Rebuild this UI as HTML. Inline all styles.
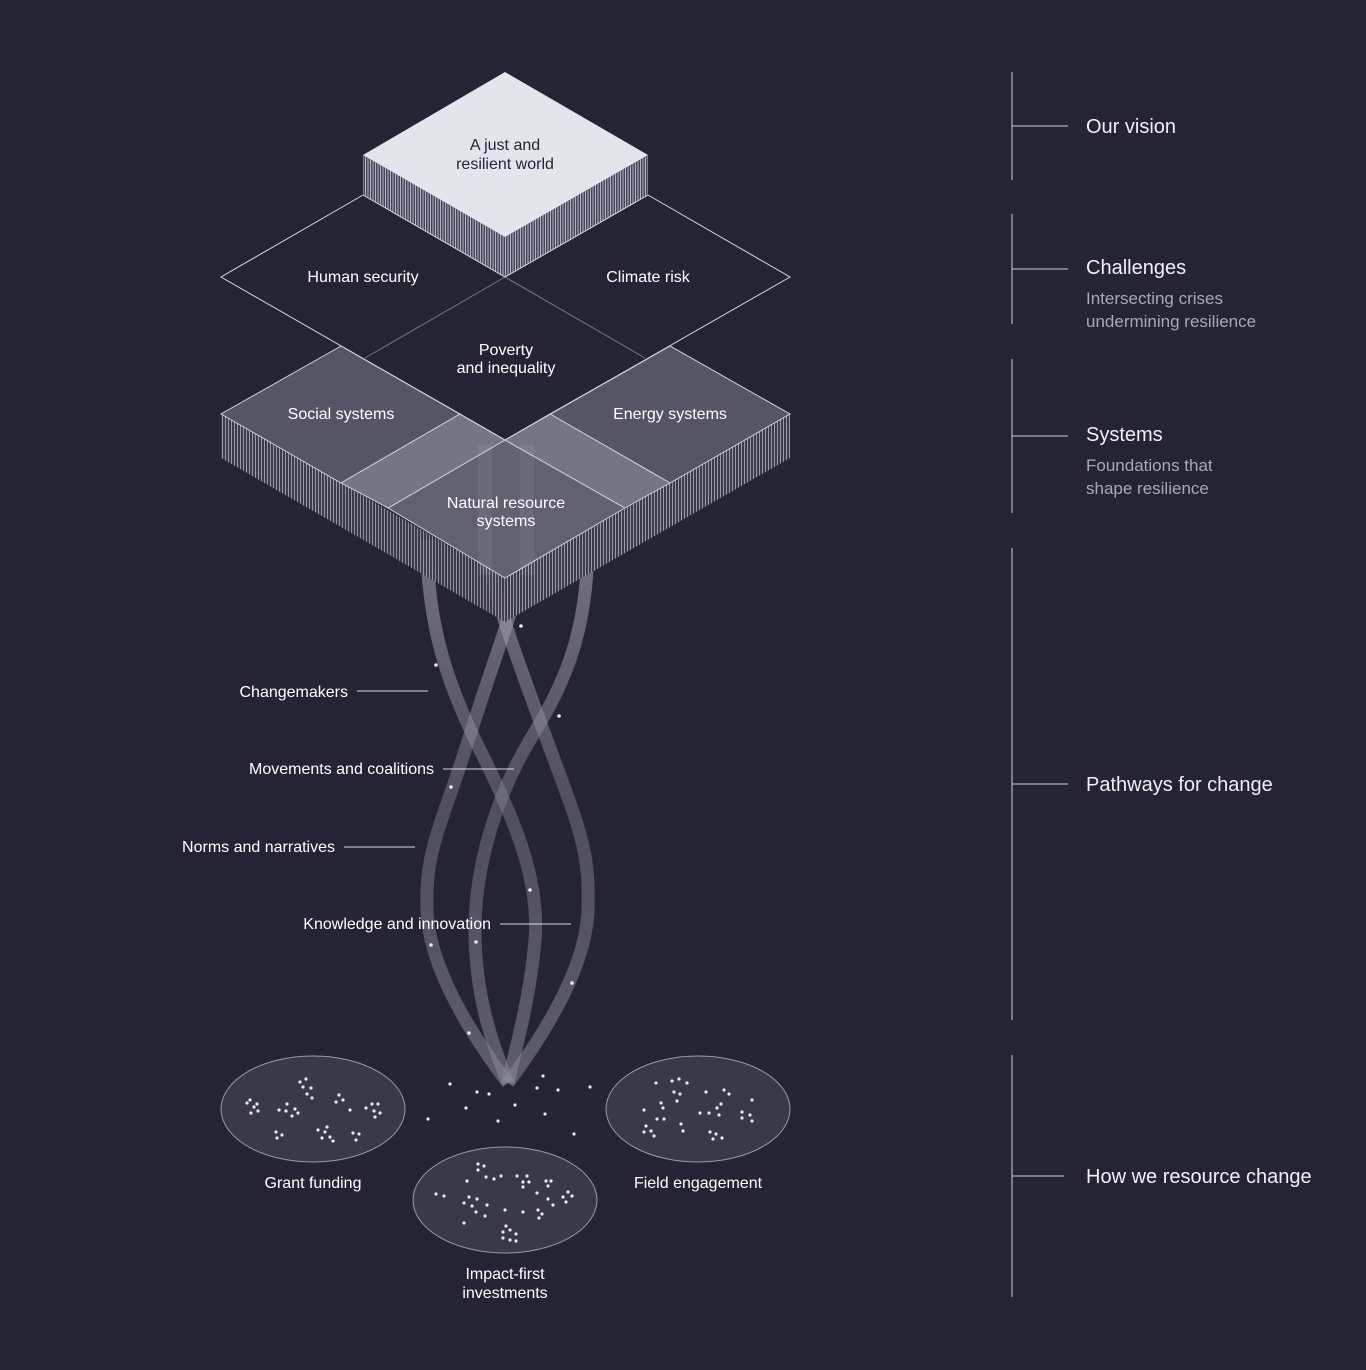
<!DOCTYPE html>
<html><head><meta charset="utf-8">
<style>
html,body{margin:0;padding:0;background:#252434;}
body{width:1366px;height:1370px;overflow:hidden;}
svg{display:block;}
text{font-family:"Liberation Sans",sans-serif;}
</style></head><body>
<svg width="1366" height="1370" viewBox="0 0 1366 1370" xmlns="http://www.w3.org/2000/svg">
<defs>
<pattern id="stripeL" width="3" height="10" patternUnits="userSpaceOnUse">
<rect width="3" height="10" fill="#3d3c4c"/><rect width="1" height="10" fill="#9a99a8"/>
</pattern>
<pattern id="stripeV" width="2.5" height="10" patternUnits="userSpaceOnUse">
<rect width="2.5" height="10" fill="#45445a"/><rect width="1" height="10" fill="#b5b4c2"/>
</pattern>
<linearGradient id="rib" x1="0" y1="0" x2="0" y2="1">
<stop offset="0" stop-color="#a8a7b8" stop-opacity="0.6"/>
<stop offset="0.5" stop-color="#8a899c" stop-opacity="0.42"/>
<stop offset="1" stop-color="#8a899c" stop-opacity="0.55"/>
</linearGradient>
</defs>
<rect width="1366" height="1370" fill="#252434"/>

<!-- Challenges diamond -->
<g stroke="#d8d8e2" stroke-width="1" fill="none">
<polyline points="363,195 221,277 505,440 790,277 648,195"/>
<line x1="505" y1="277" x2="365" y2="358" stroke-opacity="0.45"/>
<line x1="505" y1="277" x2="645" y2="358" stroke-opacity="0.45"/>
</g>

<!-- ribbons -->
<g fill="none" stroke="url(#rib)" stroke-width="13" stroke-linecap="butt">
<path d="M485,540 C492,590 510,640 545,735 S590,850 588,910 S540,1040 508,1083"/>
<path d="M527,540 C522,590 500,640 470,735 S425,850 427,910 S475,1040 508,1083"/>
<path d="M427,540 C427,620 445,680 480,750 S540,880 535,940 S515,1050 508,1083"/>
<path d="M588,540 C588,640 560,690 530,740 S475,860 475,930 S495,1050 508,1083"/>
</g>

<!-- Systems layer sides -->
<polygon points="221,414 341,483 341,527 221,458" fill="url(#stripeL)"/>
<polygon points="341,483 505,578 505,622 341,527" fill="url(#stripeL)" opacity="0.9"/>
<polygon points="505,578 790,414 790,458 505,622" fill="url(#stripeL)"/>
<!-- tops -->
<g stroke="#d0d0da" stroke-width="1">
<polygon points="341,346 221,414 341,483 460,414" fill="#565566"/>
<polygon points="670,346 550,414 670,483 790,414" fill="#565566"/>
<polygon points="505,440 388,508 505,578 625,508" fill="#626172"/>
<polygon points="460,414 341,483 388,508 505,440" fill="#767585"/>
<polygon points="550,414 670,483 625,508 505,440" fill="#767585"/>
</g>
<polyline points="341,346 505,440 670,346" fill="none" stroke="#d0d0da" stroke-width="1"/>
<g fill="#ffffff" opacity="0.06">
<rect x="478" y="445" width="14" height="130"/><rect x="520" y="445" width="14" height="130"/>
</g>

<!-- Vision block -->
<polygon points="363,155 505,237 505,277 363,195" fill="url(#stripeV)"/>
<polygon points="505,237 648,155 648,195 505,277" fill="url(#stripeV)"/>
<polyline points="363,195 505,277 648,195" fill="none" stroke="#d8d8e2" stroke-width="1"/>
<polygon points="505,72 363,155 505,237 648,155" fill="#e4e4ec"/>

<!-- labels on diagram -->
<g font-size="16" fill="#ffffff" text-anchor="middle">
<text x="505" y="150" fill="#25243a">A just and</text>
<text x="505" y="169" fill="#25243a">resilient world</text>
<text x="363" y="282">Human security</text>
<text x="648" y="282">Climate risk</text>
<text x="506" y="355">Poverty</text>
<text x="506" y="373">and inequality</text>
<text x="341" y="419">Social systems</text>
<text x="670" y="419">Energy systems</text>
<text x="506" y="508">Natural resource</text>
<text x="506" y="526">systems</text>
</g>

<!-- pathway labels -->
<g font-size="16" fill="#ffffff" text-anchor="end">
<text x="348" y="697">Changemakers</text>
<text x="434" y="774">Movements and coalitions</text>
<text x="335" y="852">Norms and narratives</text>
<text x="491" y="929">Knowledge and innovation</text>
</g>
<g stroke="#d8d8e2" stroke-width="1">
<line x1="357" y1="691" x2="428" y2="691"/>
<line x1="443" y1="769" x2="514" y2="769"/>
<line x1="344" y1="847" x2="415" y2="847"/>
<line x1="500" y1="924" x2="571" y2="924"/>
</g>

<!-- ribbon dots -->
<g fill="#e8e8f0">
<circle cx="521" cy="626" r="1.8"/><circle cx="436" cy="665" r="1.8"/><circle cx="559" cy="716" r="1.8"/>
<circle cx="451" cy="787" r="1.8"/><circle cx="530" cy="890" r="1.8"/><circle cx="431" cy="945" r="1.8"/>
<circle cx="476" cy="942" r="1.8"/><circle cx="572" cy="983" r="1.8"/><circle cx="469" cy="1033" r="1.8"/>
</g>

<!-- resource ellipses -->
<g fill="#3a3949" stroke="#9a99a8" stroke-width="1">
<ellipse cx="313" cy="1109" rx="92" ry="53"/>
<ellipse cx="698" cy="1109" rx="92" ry="53"/>
<ellipse cx="505" cy="1200" rx="92" ry="53"/>
</g>
<g fill="#e8e8f0">
<circle cx="450" cy="1084" r="1.6"/><circle cx="477" cy="1092" r="1.6"/><circle cx="489" cy="1094" r="1.6"/>
<circle cx="543" cy="1076" r="1.6"/><circle cx="537" cy="1088" r="1.6"/><circle cx="558" cy="1090" r="1.6"/>
<circle cx="590" cy="1087" r="1.6"/><circle cx="466" cy="1108" r="1.6"/><circle cx="515" cy="1105" r="1.6"/>
<circle cx="545" cy="1114" r="1.6"/><circle cx="428" cy="1119" r="1.6"/><circle cx="498" cy="1121" r="1.6"/>
<circle cx="574" cy="1134" r="1.6"/>
<circle cx="300" cy="1082" r="1.6"/><circle cx="306" cy="1079" r="1.6"/><circle cx="303" cy="1087" r="1.6"/><circle cx="311" cy="1088" r="1.6"/><circle cx="307" cy="1094" r="1.6"/><circle cx="312" cy="1098" r="1.6"/>
<circle cx="339" cy="1095" r="1.6"/><circle cx="336" cy="1102" r="1.6"/><circle cx="343" cy="1100" r="1.6"/>
<circle cx="247" cy="1103" r="1.6"/><circle cx="254" cy="1107" r="1.6"/><circle cx="258" cy="1111" r="1.6"/><circle cx="251" cy="1113" r="1.6"/><circle cx="250" cy="1100" r="1.6"/><circle cx="257" cy="1104" r="1.6"/>
<circle cx="279" cy="1110" r="1.6"/><circle cx="286" cy="1111" r="1.6"/><circle cx="287" cy="1104" r="1.6"/><circle cx="295" cy="1109" r="1.6"/><circle cx="292" cy="1116" r="1.6"/><circle cx="298" cy="1113" r="1.6"/>
<circle cx="350" cy="1110" r="1.6"/><circle cx="366" cy="1108" r="1.6"/><circle cx="372" cy="1104" r="1.6"/><circle cx="378" cy="1104" r="1.6"/><circle cx="374" cy="1111" r="1.6"/><circle cx="380" cy="1113" r="1.6"/><circle cx="375" cy="1117" r="1.6"/>
<circle cx="276" cy="1132" r="1.6"/><circle cx="282" cy="1135" r="1.6"/><circle cx="277" cy="1138" r="1.6"/>
<circle cx="318" cy="1130" r="1.6"/><circle cx="325" cy="1132" r="1.6"/><circle cx="330" cy="1137" r="1.6"/><circle cx="322" cy="1138" r="1.6"/><circle cx="327" cy="1127" r="1.6"/><circle cx="333" cy="1141" r="1.6"/>
<circle cx="353" cy="1133" r="1.6"/><circle cx="359" cy="1134" r="1.6"/><circle cx="356" cy="1140" r="1.6"/>
<circle cx="656" cy="1083" r="1.6"/><circle cx="672" cy="1081" r="1.6"/><circle cx="679" cy="1079" r="1.6"/><circle cx="687" cy="1083" r="1.6"/>
<circle cx="674" cy="1092" r="1.6"/><circle cx="680" cy="1094" r="1.6"/><circle cx="677" cy="1101" r="1.6"/>
<circle cx="706" cy="1092" r="1.6"/><circle cx="724" cy="1090" r="1.6"/><circle cx="729" cy="1094" r="1.6"/>
<circle cx="661" cy="1103" r="1.6"/><circle cx="663" cy="1108" r="1.6"/><circle cx="644" cy="1110" r="1.6"/>
<circle cx="700" cy="1113" r="1.6"/><circle cx="709" cy="1113" r="1.6"/><circle cx="717" cy="1108" r="1.6"/><circle cx="721" cy="1104" r="1.6"/><circle cx="719" cy="1115" r="1.6"/>
<circle cx="752" cy="1100" r="1.6"/><circle cx="742" cy="1112" r="1.6"/><circle cx="750" cy="1115" r="1.6"/><circle cx="742" cy="1118" r="1.6"/><circle cx="752" cy="1121" r="1.6"/>
<circle cx="657" cy="1119" r="1.6"/><circle cx="664" cy="1119" r="1.6"/><circle cx="681" cy="1124" r="1.6"/><circle cx="683" cy="1131" r="1.6"/>
<circle cx="646" cy="1126" r="1.6"/><circle cx="644" cy="1132" r="1.6"/><circle cx="651" cy="1131" r="1.6"/><circle cx="654" cy="1136" r="1.6"/>
<circle cx="710" cy="1132" r="1.6"/><circle cx="716" cy="1134" r="1.6"/><circle cx="713" cy="1139" r="1.6"/><circle cx="722" cy="1138" r="1.6"/>
<circle cx="478" cy="1164" r="1.6"/><circle cx="484" cy="1166" r="1.6"/><circle cx="478" cy="1170" r="1.6"/>
<circle cx="467" cy="1181" r="1.6"/><circle cx="486" cy="1177" r="1.6"/><circle cx="494" cy="1179" r="1.6"/><circle cx="501" cy="1176" r="1.6"/>
<circle cx="517" cy="1176" r="1.6"/><circle cx="527" cy="1176" r="1.6"/><circle cx="523" cy="1182" r="1.6"/><circle cx="529" cy="1182" r="1.6"/><circle cx="523" cy="1187" r="1.6"/>
<circle cx="546" cy="1181" r="1.6"/><circle cx="551" cy="1181" r="1.6"/><circle cx="548" cy="1186" r="1.6"/>
<circle cx="436" cy="1194" r="1.6"/><circle cx="444" cy="1196" r="1.6"/>
<circle cx="469" cy="1197" r="1.6"/><circle cx="477" cy="1199" r="1.6"/><circle cx="464" cy="1203" r="1.6"/><circle cx="472" cy="1206" r="1.6"/><circle cx="487" cy="1205" r="1.6"/>
<circle cx="505" cy="1210" r="1.6"/><circle cx="537" cy="1193" r="1.6"/><circle cx="548" cy="1199" r="1.6"/><circle cx="553" cy="1205" r="1.6"/>
<circle cx="568" cy="1192" r="1.6"/><circle cx="572" cy="1196" r="1.6"/><circle cx="563" cy="1197" r="1.6"/><circle cx="566" cy="1202" r="1.6"/>
<circle cx="476" cy="1212" r="1.6"/><circle cx="485" cy="1216" r="1.6"/><circle cx="523" cy="1212" r="1.6"/>
<circle cx="538" cy="1210" r="1.6"/><circle cx="542" cy="1214" r="1.6"/><circle cx="539" cy="1218" r="1.6"/>
<circle cx="464" cy="1223" r="1.6"/>
<circle cx="506" cy="1226" r="1.6"/><circle cx="503" cy="1232" r="1.6"/><circle cx="510" cy="1230" r="1.6"/><circle cx="516" cy="1234" r="1.6"/><circle cx="503" cy="1238" r="1.6"/><circle cx="510" cy="1240" r="1.6"/><circle cx="516" cy="1241" r="1.6"/>
</g>
<g font-size="16" fill="#ffffff" text-anchor="middle">
<text x="313" y="1188">Grant funding</text>
<text x="698" y="1188">Field engagement</text>
<text x="505" y="1279">Impact-first</text>
<text x="505" y="1298">investments</text>
</g>

<!-- right legend -->
<g stroke="#cfcfd8" stroke-width="1">
<line x1="1012" y1="72" x2="1012" y2="180"/>
<line x1="1012" y1="214" x2="1012" y2="324"/>
<line x1="1012" y1="359" x2="1012" y2="513"/>
<line x1="1012" y1="548" x2="1012" y2="1020"/>
<line x1="1012" y1="1055" x2="1012" y2="1297"/>
<line x1="1012" y1="126" x2="1068" y2="126"/>
<line x1="1012" y1="269" x2="1068" y2="269"/>
<line x1="1012" y1="436" x2="1068" y2="436"/>
<line x1="1012" y1="784" x2="1068" y2="784"/>
<line x1="1012" y1="1176" x2="1064" y2="1176"/>
</g>
<g font-size="20" fill="#f0f0f5">
<text x="1086" y="133">Our vision</text>
<text x="1086" y="274">Challenges</text>
<text x="1086" y="441">Systems</text>
<text x="1086" y="791">Pathways for change</text>
<text x="1086" y="1183">How we resource change</text>
</g>
<g font-size="17" fill="#a9a8b6">
<text x="1086" y="304">Intersecting crises</text>
<text x="1086" y="327">undermining resilience</text>
<text x="1086" y="471">Foundations that</text>
<text x="1086" y="494">shape resilience</text>
</g>
</svg>
</body></html>
